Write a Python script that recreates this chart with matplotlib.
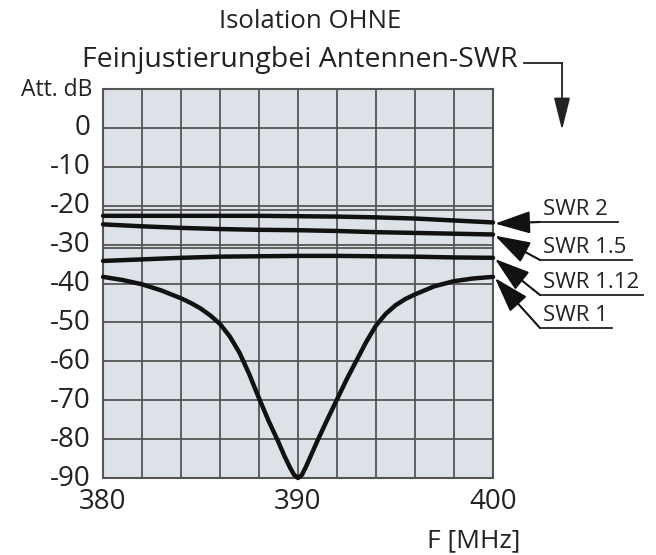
import matplotlib
matplotlib.use("Agg")
import matplotlib.pyplot as plt
import matplotlib.transforms as mtransforms
from matplotlib.lines import Line2D

plt.rcParams["font.family"] = ["Open Sans", "DejaVu Sans"]

# data
freq = [380, 382, 384, 386, 388, 390, 392, 394, 396, 398, 400]
swr2 = [-22.6, -22.6, -22.6, -22.6, -22.6, -22.7, -22.8, -23.0, -23.3, -23.8, -24.3]
swr15 = [-24.8, -25.3, -25.7, -26.0, -26.2, -26.3, -26.5, -26.8, -27.0, -27.2, -27.4]
swr112 = [-34.2, -33.8, -33.4, -33.1, -33.0, -32.9, -32.9, -33.0, -33.1, -33.3, -33.4]

freq1 = [380, 381, 382, 383, 384, 384.5, 385, 385.5, 386, 386.5, 387, 387.5,
         388, 388.5, 389, 389.3, 389.6, 389.8, 390, 390.2, 390.4, 390.7, 391,
         391.5, 392, 392.5, 393, 393.5, 394, 394.5, 395, 395.5, 396, 397, 398,
         399, 400]
swr1 = [-38.3, -39.1, -40.2, -41.8, -43.8, -45.0, -46.4, -48.2, -50.4, -53.6,
        -57.8, -63.3, -69.5, -75.4, -80.8, -84.3, -87.4, -89.2, -90.0, -89.2,
        -87.2, -83.8, -80.4, -75.0, -69.8, -64.6, -59.8, -55.0, -50.8, -47.8,
        -45.6, -44.0, -42.8, -40.7, -39.4, -38.7, -38.3]

series_labels = ["SWR 2", "SWR 1.5", "SWR 1.12", "SWR 1"]

x_ticks = [380, 390, 400]
y_ticks = [0, -10, -20, -30, -40, -50, -60, -70, -80, -90]
x_grid = list(range(380, 401, 2))
y_grid = [10, 0, -10, -20, -21, -30, -31, -40, -50, -60, -70, -80, -90]

W, H = 656, 555


def fx(px):
    return px / W


def fy(py):
    return 1 - py / H


fig = plt.figure(figsize=(W / 100, H / 100), dpi=100)
ax = fig.add_axes([fx(103), fy(478), fx(493) - fx(103), fy(89) - fy(478)])
ax.set_facecolor("#dde1e8")
ax.set_xlim(380, 400)
ax.set_ylim(-90, 10)

for xv in x_grid:
    ax.axvline(xv, color="#555555", lw=1.3, zorder=1)
for yv in y_grid:
    ax.axhline(yv, color="#555555", lw=1.3, zorder=1)

for s in ax.spines.values():
    s.set_color("#555555")
    s.set_linewidth(1.5)

curves = [(freq, swr2), (freq, swr15), (freq, swr112), (freq1, swr1)]
for xs, ys in curves:
    ax.plot(xs, ys, color="#111111", lw=3.2, solid_joinstyle="round",
            solid_capstyle="round", zorder=3, clip_on=False)

ax.set_xticks(x_ticks)
ax.set_yticks(y_ticks)
ax.set_xticklabels([str(v) for v in x_ticks])
ax.set_yticklabels([str(v) for v in y_ticks])
ax.tick_params(length=0, labelsize=20, pad=9, colors="#222222")
ax.tick_params(axis="x", pad=7)

# nudge y labels up a little, as in the original
up = mtransforms.ScaledTranslation(0, 3 / 100, fig.dpi_scale_trans)
for t in ax.get_yticklabels():
    t.set_transform(t.get_transform() + up)

# axis captions
fig.text(fx(92), fy(90), "Att. dB", ha="right", va="center", fontsize=16.5,
         color="#222222")
fig.text(fx(520), fy(541), "F [MHz]", ha="right", va="center", fontsize=19,
         color="#222222")

# titles
fig.text(fx(310), fy(22), "Isolation OHNE", ha="center", va="center",
         fontsize=18.5, color="#222222")
fig.text(fx(300), fy(60), "Feinjustierungbei Antennen-SWR", ha="center",
         va="center", fontsize=20.5, color="#222222")

# title pointer arrow
fig.add_artist(Line2D([fx(524), fx(562)], [fy(63), fy(63)], color="#222222",
                      lw=1.3))
ax.annotate("", xy=(fx(562), fy(130)), xycoords="figure fraction",
            xytext=(fx(562), fy(63)), textcoords="figure fraction",
            arrowprops=dict(arrowstyle="-|>,head_length=1.0,head_width=0.25",
                            mutation_scale=20, color="#222222", lw=1.3,
                            shrinkA=0, shrinkB=0))

# series pointer labels: knee point and end of underline (pixels)
knees = [(540, 222), (540, 260), (540, 295), (540, 328)]
line_ends = [618, 632, 643, 612]
ends = [swr2[-1], swr15[-1], swr112[-1], swr1[-1]]
for lab, (kx, ky), ex, yv in zip(series_labels, knees, line_ends, ends):
    ax.annotate("", xy=(400.1, yv - 0.3), xycoords="data",
                xytext=(fx(kx), fy(ky)), textcoords="figure fraction",
                arrowprops=dict(arrowstyle="-|>,head_length=1.1,head_width=0.35",
                                mutation_scale=20, color="#111111", lw=1.5,
                                shrinkA=0, shrinkB=0), annotation_clip=False)
    fig.add_artist(Line2D([fx(kx), fx(ex)], [fy(ky), fy(ky)], color="#222222",
                          lw=1.3))
    fig.text(fx(543), fy(ky - 2), lab, ha="left", va="bottom", fontsize=16,
             color="#222222")

fig.savefig("out.png", dpi=100)
